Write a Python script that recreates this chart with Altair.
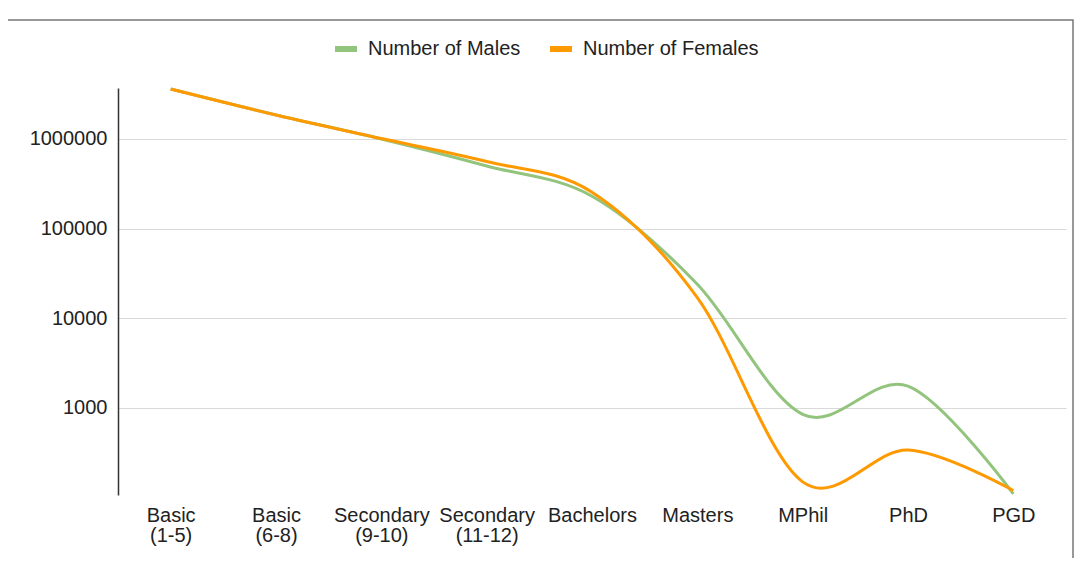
import altair as alt
import pandas as pd

categories = ["Basic (1-5)", "Basic (6-8)", "Secondary (9-10)", "Secondary (11-12)",
              "Bachelors", "Masters", "MPhil", "PhD", "PGD"]
males = [3600000, 1850000, 1000000, 500000, 230000, 24000, 850, 1750, 110]
females = [3600000, 1850000, 1010000, 560000, 255000, 17000, 150, 340, 120]
series_names = ["Number of Males", "Number of Females"]
series_colors = ["#93c47d", "#ff9900"]
y_ticks = [1000, 10000, 100000, 1000000]

rows = []
for c, m, f in zip(categories, males, females):
    rows.append({"level": c, "series": series_names[0], "value": m})
    rows.append({"level": c, "series": series_names[1], "value": f})
df = pd.DataFrame(rows)

FONT = "Liberation Sans"

lines = alt.Chart(df).mark_line(interpolate="cardinal", strokeWidth=3).encode(
    x=alt.X("level:N", sort=categories, title=None,
            scale=alt.Scale(padding=0.5),
            axis=alt.Axis(labelAngle=0, domain=False, ticks=False, grid=False,
                          labelExpr="split(datum.label, ' ')",
                          labelFont=FONT, labelFontSize=20, labelColor="#222222",
                          labelLineHeight=20, labelPadding=10, labelBaseline="top")),
    y=alt.Y("value:Q", title=None,
            scale=alt.Scale(type="log", domain=[107, 3700000], nice=False),
            axis=alt.Axis(values=y_ticks, format="d", domain=True, domainColor="#333333",
                          domainWidth=1.5, ticks=False, grid=True, gridColor="#d9d9d9",
                          gridWidth=1, labelFont=FONT, labelFontSize=20,
                          labelColor="#222222", labelPadding=11)),
    color=alt.Color("series:N", sort=series_names,
                    scale=alt.Scale(domain=series_names, range=series_colors),
                    legend=alt.Legend(title=None, orient="none", direction="horizontal",
                                      legendX=214, legendY=-53,
                                      symbolType="stroke", symbolStrokeWidth=6,
                                      symbolSize=484, labelFont=FONT, labelFontSize=20,
                                      labelColor="#222222", labelOffset=8,
                                      labelLimit=400, columnPadding=17)),
    order=alt.Order("series:N")
)

frame = alt.Chart(alt.Data(values=[{}])).mark_rect(
    filled=False, stroke="#777777", strokeWidth=1.5
).encode(
    x=alt.value(-111), x2=alt.value(955), y=alt.value(-68), y2=alt.value(480)
)

chart = alt.layer(frame, lines).properties(
    width=948, height=407,
    background="white",
    autosize=alt.AutoSizeParams(type="none"),
    padding={"left": 110, "top": 80, "right": 8, "bottom": 63}
).configure_view(stroke=None)

chart.save("out.html", embed_options={"renderer": "svg", "actions": False})
